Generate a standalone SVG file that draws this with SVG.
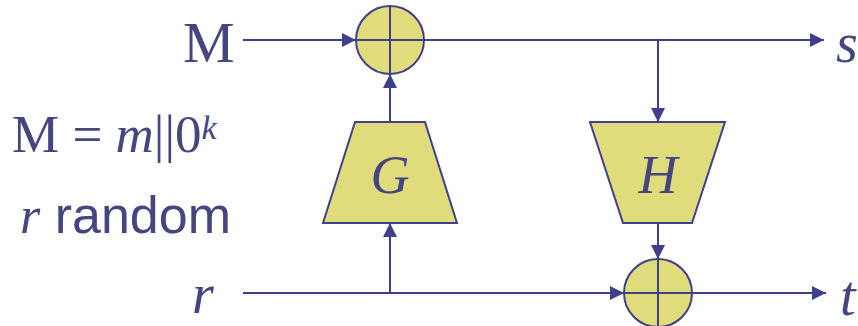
<svg xmlns="http://www.w3.org/2000/svg" width="858" height="326" viewBox="0 0 858 326">
<style>
.ln{stroke:#3f3f8c;stroke-width:2;fill:none}
.sh{fill:#e0dc7c;stroke:#3f3f8c;stroke-width:2}
.serif{font-family:"Liberation Serif","Times New Roman",serif;fill:#45457f}
.it{font-style:italic}
.sans{font-family:"Liberation Sans",Arial,sans-serif;fill:#45457f}
</style>
<defs>
<marker id="ah" markerWidth="14" markerHeight="14" viewBox="0 0 14 14" refX="14" refY="7" orient="auto" markerUnits="userSpaceOnUse">
<path d="M0,0 L14,7 L0,14 Z" fill="#3f3f8c"/>
</marker>
</defs>
<rect width="858" height="326" fill="#ffffff"/>
<g id="labels">
<text class="serif" x="183" y="62" font-size="58">M</text>
<text class="serif it" x="836" y="62" font-size="56">s</text>
<text class="serif it" x="840" y="315" font-size="56">t</text>
<text class="serif it" x="192" y="313" font-size="56">r</text>
<text x="12" y="152" font-size="53"><tspan class="serif">M = </tspan><tspan class="serif it">m</tspan><tspan class="serif">||0</tspan><tspan class="serif it" font-size="34" dy="-13">k</tspan></text>
<text x="20" y="233" font-size="52"><tspan class="serif it">r</tspan><tspan class="sans"> random</tspan></text>
</g>
<g id="connectors">
<line class="ln" x1="243" y1="40" x2="356" y2="40" marker-end="url(#ah)"/>
<line class="ln" x1="424" y1="40" x2="824" y2="40" marker-end="url(#ah)"/>
<line class="ln" x1="658" y1="40" x2="658" y2="122" marker-end="url(#ah)"/>
<line class="ln" x1="390" y1="122" x2="390" y2="74" marker-end="url(#ah)"/>
<line class="ln" x1="243" y1="293" x2="624" y2="293" marker-end="url(#ah)"/>
<line class="ln" x1="390" y1="293" x2="390" y2="223" marker-end="url(#ah)"/>
<line class="ln" x1="658" y1="223" x2="658" y2="259" marker-end="url(#ah)"/>
<line class="ln" x1="692" y1="293" x2="826" y2="293" marker-end="url(#ah)"/>
</g>
<g id="xor1">
<circle class="sh" cx="390" cy="40" r="34"/>
<line class="ln" x1="356" y1="40" x2="424" y2="40"/>
<line class="ln" x1="390" y1="6" x2="390" y2="74"/>
</g>
<g id="G">
<polygon class="sh" points="355,122 425,122 457,223 323,223"/>
<text class="serif it" x="390" y="193" font-size="54" text-anchor="middle">G</text>
</g>
<g id="H">
<polygon class="sh" points="590,122 725,122 692,223 623,223"/>
<text class="serif it" x="658" y="193" font-size="54" text-anchor="middle">H</text>
</g>
<g id="xor2">
<circle class="sh" cx="658" cy="293" r="34"/>
<line class="ln" x1="624" y1="293" x2="692" y2="293"/>
<line class="ln" x1="658" y1="259" x2="658" y2="327"/>
</g>
</svg>
